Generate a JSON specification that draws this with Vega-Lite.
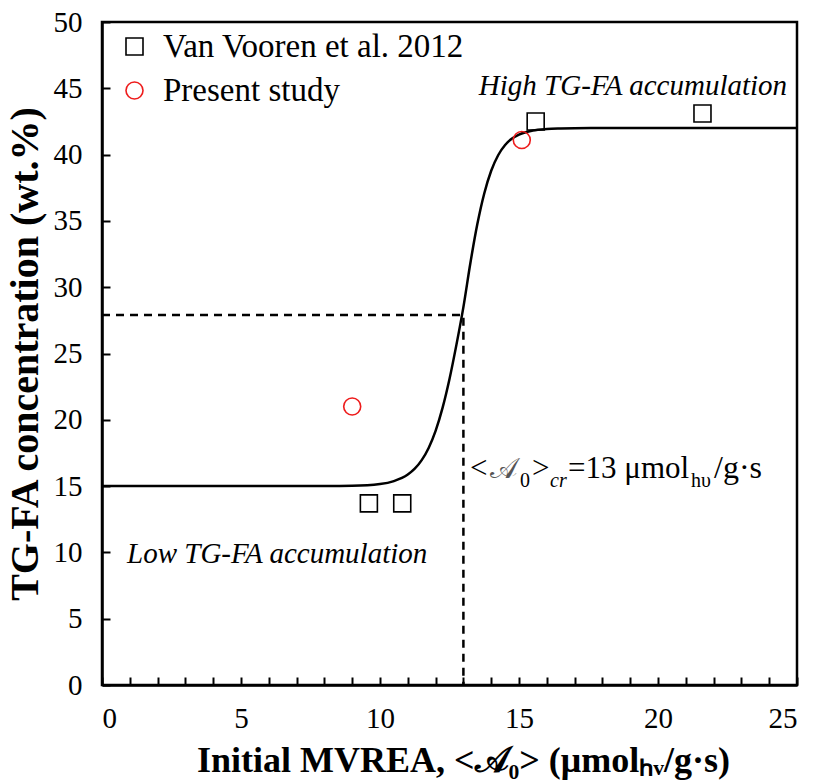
{
  "$schema": "https://vega.github.io/schema/vega-lite/v6.json",
  "width": 695,
  "height": 663,
  "autosize": {"type": "none"},
  "padding": {"left": 102, "top": 22, "right": 17, "bottom": 98},
  "background": "white",
  "datasets": {
    "curve": [
      {"x": 0, "y": 15.0}, {"x": 5, "y": 15.0}, {"x": 8, "y": 15.01},
      {"x": 9, "y": 15.03}, {"x": 10, "y": 15.16}, {"x": 10.5, "y": 15.38},
      {"x": 11, "y": 15.87}, {"x": 11.25, "y": 16.31}, {"x": 11.5, "y": 16.96},
      {"x": 11.75, "y": 17.88}, {"x": 12, "y": 19.17}, {"x": 12.25, "y": 20.9},
      {"x": 12.5, "y": 23.08}, {"x": 12.75, "y": 25.67}, {"x": 13, "y": 28.5},
      {"x": 13.25, "y": 31.81}, {"x": 13.5, "y": 34.74}, {"x": 13.75, "y": 37.07},
      {"x": 14, "y": 38.78}, {"x": 14.25, "y": 39.95}, {"x": 14.5, "y": 40.72},
      {"x": 14.75, "y": 41.21}, {"x": 15, "y": 41.51}, {"x": 15.5, "y": 41.82},
      {"x": 16, "y": 41.93}, {"x": 16.5, "y": 41.97}, {"x": 17, "y": 41.99},
      {"x": 18, "y": 42.0}, {"x": 25, "y": 42.0}
    ],
    "critical": [
      {"x": 0, "y": 27.9, "seq": 1},
      {"x": 13, "y": 27.9, "seq": 2},
      {"x": 13, "y": 0, "seq": 3}
    ],
    "points": [
      {"x": 9.6, "y": 13.7, "series": "Van Vooren et al. 2012"},
      {"x": 10.8, "y": 13.7, "series": "Van Vooren et al. 2012"},
      {"x": 15.6, "y": 42.5, "series": "Van Vooren et al. 2012"},
      {"x": 21.6, "y": 43.1, "series": "Van Vooren et al. 2012"},
      {"x": 9.0, "y": 21.0, "series": "Present study"},
      {"x": 15.1, "y": 41.1, "series": "Present study"}
    ]
  },
  "layer": [
    {
      "encoding": {
        "x": {
          "field": "x", "type": "quantitative",
          "scale": {"domain": [0, 25], "nice": false, "zero": false},
          "axis": {
            "title": "Initial MVREA, <𝒜₀> (μmolₕᵥ/g·s)", "titleX": 361,
            "values": [0,1,2,3,4,5,6,7,8,9,10,11,12,13,14,15,16,17,18,19,20,21,22,23,24,25],
            "labelExpr": "datum.value % 5 === 0 ? datum.label : ''", "grid": false
          }
        },
        "y": {
          "field": "y", "type": "quantitative",
          "scale": {"domain": [0, 50], "nice": false, "zero": false},
          "axis": {"title": "TG-FA concentration (wt.%)", "values": [0,5,10,15,20,25,30,35,40,45,50], "grid": false}
        }
      },
      "layer": [
        {
          "data": {"name": "curve"},
          "mark": {"type": "line", "color": "black", "strokeWidth": 2.5, "interpolate": "monotone"}
        },
        {
          "data": {"name": "critical"},
          "mark": {"type": "line", "color": "black", "strokeWidth": 2.5, "strokeDash": [8, 6]},
          "encoding": {"order": {"field": "seq", "type": "quantitative"}}
        },
        {
          "data": {"name": "points"},
          "mark": {"type": "point", "filled": false, "size": 289, "strokeWidth": 1.6, "opacity": 1},
          "encoding": {
            "shape": {
              "field": "series", "type": "nominal",
              "scale": {"domain": ["Van Vooren et al. 2012", "Present study"], "range": ["square", "circle"]},
              "legend": {
                "title": null, "orient": "none", "legendX": 16, "legendY": 8,
                "labelFontSize": 33, "labelFont": "Liberation Serif", "labelColor": "black", "labelLimit": 500,
                "symbolSize": 289, "symbolStrokeWidth": 1.6, "labelOffset": 12,
                "rowPadding": 10, "padding": 0
              }
            },
            "color": {
              "field": "series", "type": "nominal",
              "scale": {"domain": ["Van Vooren et al. 2012", "Present study"], "range": ["black", "#ee1c1c"]},
              "legend": {
                "title": null, "orient": "none", "legendX": 16, "legendY": 8,
                "labelFontSize": 33, "labelFont": "Liberation Serif", "labelColor": "black", "labelLimit": 500,
                "symbolSize": 289, "symbolStrokeWidth": 1.6, "labelOffset": 12,
                "rowPadding": 10, "padding": 0
              }
            }
          }
        }
      ]
    },
    {
      "data": {"values": [{"note": "High TG-FA accumulation"}]},
      "mark": {"type": "text", "font": "Liberation Serif", "fontStyle": "italic", "fontSize": 29, "align": "center", "baseline": "alphabetic", "color": "black"},
      "encoding": {
        "x": {
          "datum": 19.1, "type": "quantitative",
          "axis": {
            "title": "Initial MVREA, <𝒜₀> (μmolₕᵥ/g·s)", "titleX": 361,
            "values": [0,1,2,3,4,5,6,7,8,9,10,11,12,13,14,15,16,17,18,19,20,21,22,23,24,25],
            "labelExpr": "datum.value % 5 === 0 ? datum.label : ''", "grid": false
          }
        },
        "y": {
          "datum": 44.5, "type": "quantitative",
          "axis": {"title": "TG-FA concentration (wt.%)", "values": [0,5,10,15,20,25,30,35,40,45,50], "grid": false}
        },
        "text": {"field": "note", "type": "nominal"}
      }
    },
    {
      "data": {"values": [{"note": "Low TG-FA accumulation"}]},
      "mark": {"type": "text", "font": "Liberation Serif", "fontStyle": "italic", "fontSize": 29, "align": "center", "baseline": "alphabetic", "color": "black"},
      "encoding": {
        "x": {
          "datum": 6.3, "type": "quantitative",
          "axis": {
            "title": "Initial MVREA, <𝒜₀> (μmolₕᵥ/g·s)", "titleX": 361,
            "values": [0,1,2,3,4,5,6,7,8,9,10,11,12,13,14,15,16,17,18,19,20,21,22,23,24,25],
            "labelExpr": "datum.value % 5 === 0 ? datum.label : ''", "grid": false
          }
        },
        "y": {
          "datum": 9.2, "type": "quantitative",
          "axis": {"title": "TG-FA concentration (wt.%)", "values": [0,5,10,15,20,25,30,35,40,45,50], "grid": false}
        },
        "text": {"field": "note", "type": "nominal"}
      }
    },
    {
      "encoding": {
        "x": {
          "datum": 13.24, "type": "quantitative",
          "axis": {
            "title": "Initial MVREA, <𝒜₀> (μmolₕᵥ/g·s)", "titleX": 361,
            "values": [0,1,2,3,4,5,6,7,8,9,10,11,12,13,14,15,16,17,18,19,20,21,22,23,24,25],
            "labelExpr": "datum.value % 5 === 0 ? datum.label : ''", "grid": false
          }
        },
        "y": {
          "datum": 15.6, "type": "quantitative",
          "axis": {"title": "TG-FA concentration (wt.%)", "values": [0,5,10,15,20,25,30,35,40,45,50], "grid": false}
        },
        "text": {"field": "note", "type": "nominal"}
      },
      "layer": [
        {
          "data": {"values": [{"note": "<"}]},
          "mark": {"type": "text", "font": "Liberation Serif", "fontSize": 31, "align": "left", "baseline": "alphabetic", "color": "black"}
        },
        {
          "data": {"values": [{"note": "𝒜"}]},
          "mark": {"type": "text", "font": "Liberation Serif", "fontSize": 29, "align": "left", "baseline": "alphabetic", "color": "#555555", "dx": 20}
        },
        {
          "data": {"values": [{"note": "0"}]},
          "mark": {"type": "text", "font": "Liberation Serif", "fontSize": 20, "align": "left", "baseline": "alphabetic", "color": "black", "dx": 50, "dy": 9}
        },
        {
          "data": {"values": [{"note": ">"}]},
          "mark": {"type": "text", "font": "Liberation Serif", "fontSize": 31, "align": "left", "baseline": "alphabetic", "color": "black", "dx": 62}
        },
        {
          "data": {"values": [{"note": "cr"}]},
          "mark": {"type": "text", "font": "Liberation Serif", "fontStyle": "italic", "fontSize": 20, "align": "left", "baseline": "alphabetic", "color": "black", "dx": 80, "dy": 9}
        },
        {
          "data": {"values": [{"note": "=13 μmol"}]},
          "mark": {"type": "text", "font": "Liberation Serif", "fontSize": 31, "align": "left", "baseline": "alphabetic", "color": "black", "dx": 98}
        },
        {
          "data": {"values": [{"note": "hυ"}]},
          "mark": {"type": "text", "font": "Liberation Serif", "fontSize": 20, "align": "left", "baseline": "alphabetic", "color": "black", "dx": 221, "dy": 9}
        },
        {
          "data": {"values": [{"note": "/g·s"}]},
          "mark": {"type": "text", "font": "Liberation Serif", "fontSize": 32, "align": "left", "baseline": "alphabetic", "color": "black", "dx": 244}
        }
      ]
    }
  ],
  "config": {
    "font": "Liberation Serif",
    "view": {"stroke": "black", "strokeWidth": 2.5},
    "axis": {
      "domainColor": "black", "domainWidth": 2.5,
      "tickColor": "black", "tickWidth": 2, "tickSize": -8,
      "labelFont": "Liberation Serif", "labelFontSize": 29, "labelColor": "black",
      "titleFont": "Liberation Serif", "titleFontWeight": "bold", "titleColor": "black"
    },
    "axisX": {"labelPadding": 27, "titlePadding": 10, "titleFontSize": 36},
    "axisY": {"labelPadding": 28, "titlePadding": 8, "titleFontSize": 40}
  }
}
